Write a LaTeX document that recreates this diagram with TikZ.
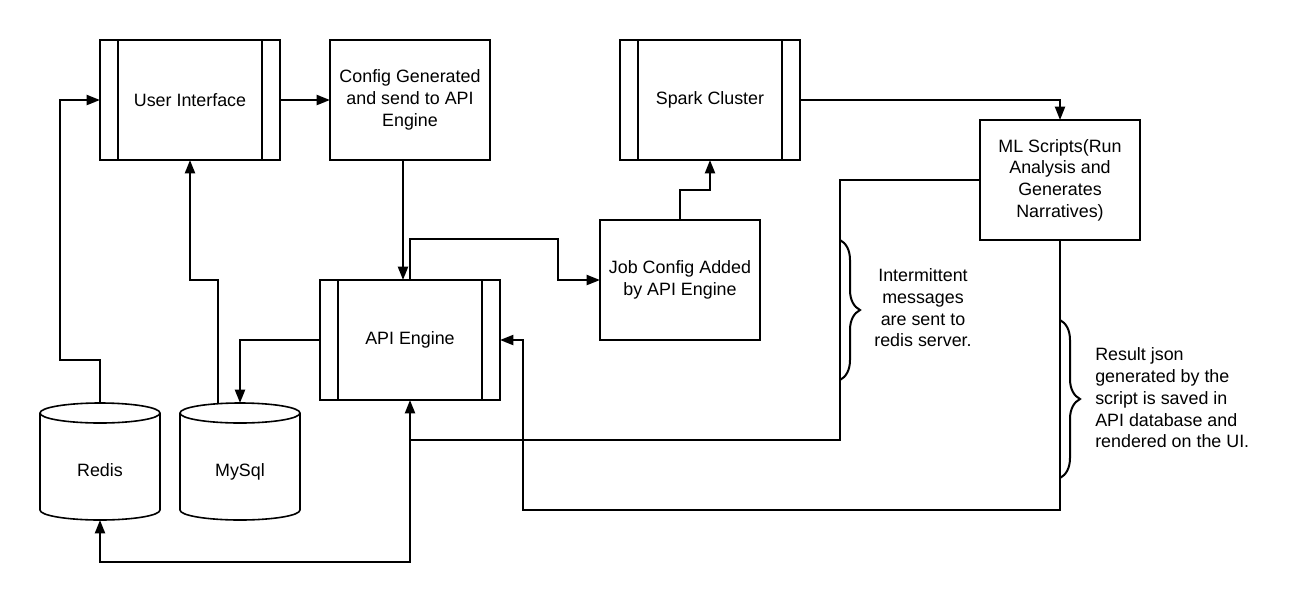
\documentclass[tikz,border=0pt]{standalone}
\usepackage{fontspec}
\setsansfont{Liberation Sans}
\usetikzlibrary{positioning, arrows.meta, decorations.pathreplacing}

\begin{document}
\begin{tikzpicture}[x=0.75pt, y=-0.75pt,
    font=\sffamily\fontsize{13.4pt}{16.3pt}\selectfont,
    >={Triangle[length=10pt, width=7.5pt]},
    box/.style={draw, line width=1.5pt, rectangle,
                minimum width=120pt, minimum height=90pt,
                inner sep=0pt, outer sep=0pt, align=center},
    process/.style={box, minimum width=135pt,
                path picture={
                  \draw[line width=1.5pt]
                    ([xshift=13.5pt]path picture bounding box.north west) -- ([xshift=13.5pt]path picture bounding box.south west)
                    ([xshift=-13.5pt]path picture bounding box.north east) -- ([xshift=-13.5pt]path picture bounding box.south east);}},
    store/.style={rectangle, minimum width=90pt, minimum height=87.75pt,
                inner sep=0pt, outer sep=0pt, text height=22pt, text depth=0pt,
                append after command={\pgfextra{
                  \draw[line width=1.2pt]
                    ([yshift=-7.5pt]\tikzlastnode.north west) -- ([yshift=7.5pt]\tikzlastnode.south west)
                    arc[start angle=180, end angle=360, x radius=45pt, y radius=7.5pt]
                    -- ([yshift=-7.5pt]\tikzlastnode.north east)
                    arc[start angle=0, end angle=180, x radius=45pt, y radius=7.5pt]
                    arc[start angle=180, end angle=360, x radius=45pt, y radius=7.5pt];}}},
    flow/.style={->, line width=1.5pt},
    note/.style={decorate, decoration={brace, amplitude=15pt}, line width=1.5pt}]

    \useasboundingbox[fill=white] (0,0) rectangle (1300,601);

    % Add the blocks
        \node[process] (ui) at (190,100) {User Interface};
        \node[box,
              right=37.5pt of ui] (cfg) {Config Generated\\and send to API\\Engine};
        \node[process,
              right=97.5pt of cfg] (spark) {Spark Cluster};
        \node[box] (ml) at (1060,180) {ML Scripts(Run\\Analysis and\\Generates\\Narratives)};
        \node[box] (job) at (680,280) {Job Config Added\\by API Engine};
        \node[process] (api) at (410,340) {API Engine};

    % Add the stores
        \node[store] (redis) at (100,461.5) {Redis};
        \node[store,
              right=15pt of redis] (mysql) {MySql};

    % Add the notes
        \coordinate (msgtop) at (840,240);
        \coordinate (msgbot) at (840,380);
        \coordinate (restop) at (1060,320);
        \coordinate (resbot) at (1060,478);
        \coordinate (split) at (410,440);
        \node[align=center, inner sep=0pt] (msg) at (923,308)
              {Intermittent\\messages\\are sent to\\redis server.};
        \node[align=left, anchor=west, inner sep=0pt] (res) at (1095,398)
              {Result json\\generated by the\\script is saved in\\API database and\\rendered on the UI.};

    % Connectors
        \draw[flow] (redis.north) |- (60,360) |- (ui.west);
        \draw[flow] ([xshift=-16.5pt]mysql.north) |- (190,280) -- (ui.south);
        \draw[flow] (ui.east) -- (cfg.west);
        \draw[flow] ([xshift=-5.25pt]cfg.south) -- ([xshift=-5.25pt]api.north);
        \draw[flow] (api.north) |- (558,239) |- (job.west);
        \draw[flow] (job.north) |- (710,190) -- (spark.south);
        \draw[flow] (spark.east) -| (ml.north);
        \draw[flow] (api.west) -| (mysql.north);
        \draw[flow] (ml.west) -| (msgtop |- split) -- (split) -- (api.south);
        \draw[flow] (split) -- ++(0,122) -| (redis.south);
        \draw[flow] (ml.south) |- (523,510) |- (api.east);

    % Braces
        \draw[note] (msgtop) -- (msgbot);
        \draw[note] (restop) -- (resbot);

\end{tikzpicture}
\end{document}
